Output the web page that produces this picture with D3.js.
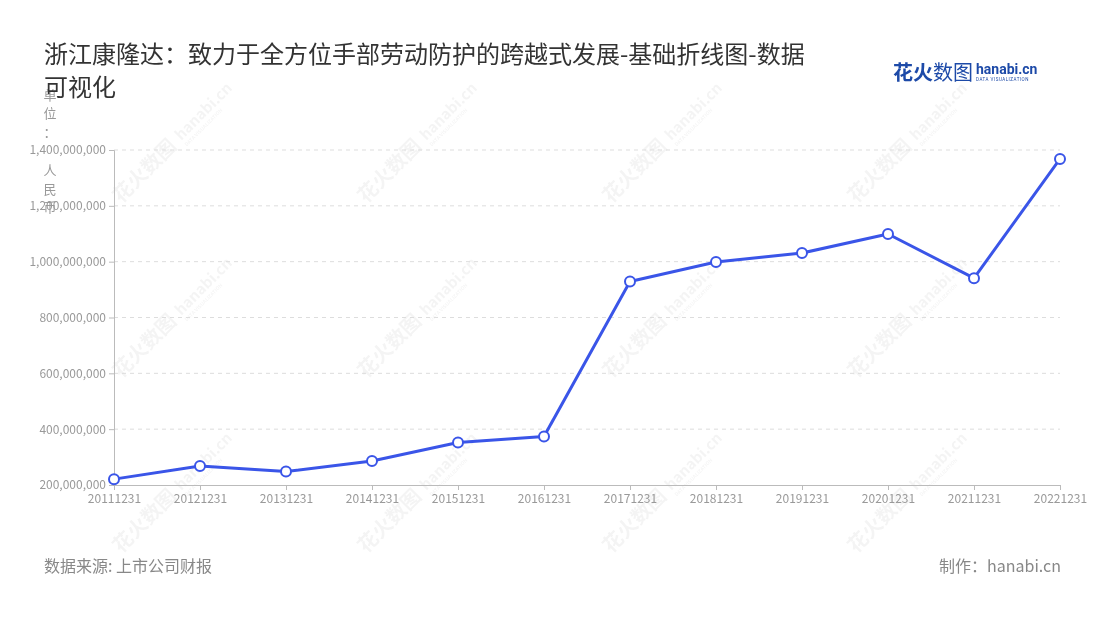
<!DOCTYPE html>
<html><head><meta charset="utf-8">
<script src="https://cdn.jsdelivr.net/npm/d3@7"></script>
<style>body{margin:0;background:#fff;}svg{display:block;font-family:"Noto Sans CJK SC","Noto Sans",sans-serif;}</style>
</head><body>
<svg id="c" width="1100" height="620"></svg>
<script>
const categories = ["20111231","20121231","20131231","20141231","20151231","20161231","20171231","20181231","20191231","20201231","20211231","20221231"];
const values = [221000000,268000000,248000000,286000000,352000000,374000000,929000000,999000000,1031000000,1099000000,941000000,1368000000];
const yTicks = [200000000,400000000,600000000,800000000,1000000000,1200000000,1400000000];
const titleLines = ["浙江康隆达：致力于全方位手部劳动防护的跨越式发展-基础折线图-数据","可视化"];
const unitLabel = "单位：人民币";
const sourceText = "数据来源: 上市公司财报";
const makerText = "制作：hanabi.cn";

const svg = d3.select("#c");
const L = 114, R = 1060, T = 150, B = 485;
const x = d3.scalePoint().domain(categories).range([L, R]);
const y = d3.scaleLinear().domain([200000000, 1400000000]).range([B, T]);

// watermarks
const wm = svg.append("g").attr("fill", "#000").attr("opacity", 0.045);
[[160,165],[405,165],[650,165],[895,165],[160,340],[405,340],[650,340],[895,340],[160,515],[405,515],[650,515],[895,515]].forEach(([cx,cy])=>{
  const g = wm.append("g").attr("transform", `translate(${cx},${cy}) rotate(-45)`);
  g.append("text").attr("x",-55).attr("y",0).attr("font-size",20).attr("font-weight","bold").text("花火数图");
  g.append("text").attr("x",32).attr("y",-2).attr("font-size",15).attr("font-weight","bold").text("hanabi.cn");
  g.append("text").attr("x",32).attr("y",6).attr("font-size",5).attr("font-weight","bold").text("DATA VISUALIZATION");
});

// grid
svg.append("g").selectAll("line").data(yTicks.slice(1)).join("line")
  .attr("x1", L).attr("x2", R).attr("y1", d=>y(d)).attr("y2", d=>y(d))
  .attr("stroke", "#ddd").attr("stroke-dasharray", "4,4");

// y axis
const ya = svg.append("g").attr("transform", `translate(${L},0)`)
  .call(d3.axisLeft(y).tickValues(yTicks).tickFormat(d3.format(",")).tickSize(5).tickPadding(3));
ya.select(".domain").attr("stroke", "#bbb");
ya.selectAll(".tick line").attr("stroke", "#bbb");
ya.selectAll("text").attr("fill", "#999").attr("font-size", 12).attr("font-family", "'Noto Sans CJK SC',sans-serif");

// x axis
const xa = svg.append("g").attr("transform", `translate(0,${B})`)
  .call(d3.axisBottom(x).tickSize(5).tickPadding(4).tickSizeOuter(0));
xa.select(".domain").attr("stroke", "#bbb");
xa.selectAll(".tick line").attr("stroke", "#bbb");
xa.selectAll("text").attr("fill", "#999").attr("font-size", 12).attr("font-family", "'Noto Sans CJK SC',sans-serif");

// unit label vertical
const ulY = [95,113,132,170,189,207];
svg.append("text").attr("fill","#999").attr("font-size",13).attr("text-anchor","middle")
  .selectAll("tspan").data(unitLabel.split("")).join("tspan")
  .attr("x", 50).attr("y", (d,i)=>ulY[i]+5).text(d=>d);

// line
const data = categories.map((c,i)=>({c, v: values[i]}));
svg.append("path").datum(data)
  .attr("d", d3.line().x(d=>x(d.c)).y(d=>y(d.v)))
  .attr("fill","none").attr("stroke","#3a55e8").attr("stroke-width",3).attr("stroke-linejoin","round");
svg.append("g").selectAll("circle").data(data).join("circle")
  .attr("cx", d=>x(d.c)).attr("cy", d=>y(d.v)).attr("r", 5)
  .attr("fill","#fff").attr("stroke","#3a55e8").attr("stroke-width",2);

// title
svg.append("g").selectAll("text").data(titleLines).join("text")
  .attr("x", 44).attr("y", (d,i)=>63+i*33).attr("font-size", 24).attr("fill", "#333").text(d=>d);

// logo
svg.append("text").attr("x", 893).attr("y", 80).attr("font-size", 20).attr("font-weight","bold").attr("fill","#1d4aa8").text("花火");
svg.append("text").attr("x", 933).attr("y", 80).attr("font-size", 20).attr("fill","#1d4aa8").text("数图");
svg.append("text").attr("x", 976).attr("y", 74).attr("font-size", 14).attr("font-weight","bold").attr("fill","#1d4aa8").attr("font-family","Roboto,sans-serif").text("hanabi.cn");
svg.append("text").attr("x", 976).attr("y", 81).attr("font-size", 4.5).attr("fill","#1d4aa8").attr("letter-spacing","0.5").attr("font-family","Roboto,sans-serif").text("DATA VISUALIZATION");

// footer
svg.append("text").attr("x", 44).attr("y", 572).attr("font-size", 16).attr("fill", "#888").text(sourceText);
svg.append("text").attr("x", 1061).attr("y", 572).attr("font-size", 16).attr("fill", "#888").attr("text-anchor","end").text(makerText);
</script>
</body></html>
